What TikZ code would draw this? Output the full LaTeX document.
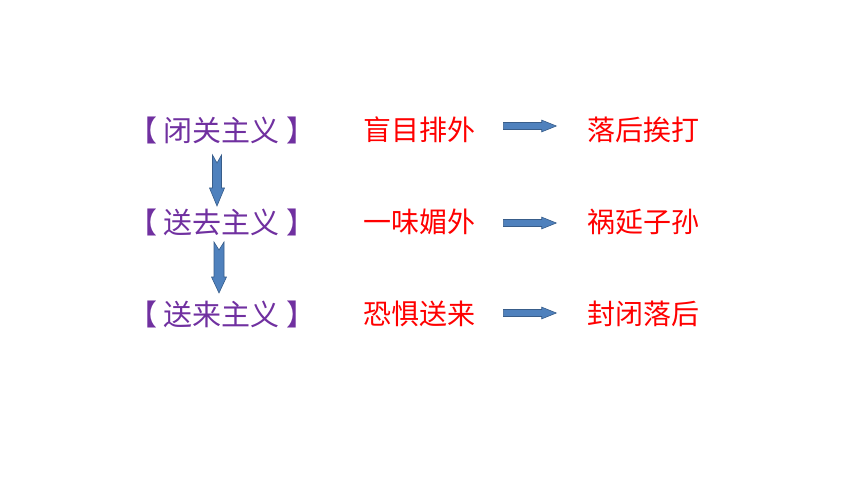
\documentclass[tikz,border=0pt]{standalone}
\usepackage{fontspec}
\setmainfont{Noto Sans CJK SC}
\usetikzlibrary{shapes.arrows}
\definecolor{zhupurple}{HTML}{7030A0}
\definecolor{arrowblue}{HTML}{4F81BD}
\definecolor{arrowline}{HTML}{385D8A}
\tikzset{
  zhuyi/.style={inner sep=0pt, text=zhupurple, font=\fontsize{29}{34}\selectfont},
  jieguo/.style={anchor=west, inner sep=0pt, text=red, font=\fontsize{28}{33}\selectfont},
  blockarrow/.style={fill=arrowblue, draw=arrowline, line width=0.6pt},
  rightarrow/.style={blockarrow, single arrow, minimum height=53pt, inner sep=3.2pt,
    single arrow head extend=2.4pt, single arrow tip angle=44, anchor=west}
}
\begin{document}
\begin{tikzpicture}[x=1pt, y=-1pt]
  \useasboundingbox (0,0) rectangle (860,484);

  \foreach \y/\h/\zhu/\a/\b [count=\i] in {130/126/闭关主义/盲目排外/落后挨打,
      222/223/送去主义/一味媚外/祸延子孙, 314/313/送来主义/恐惧送来/封闭落后}{
    \node[zhuyi] (z\i) at (222,\y) {【\kern7pt\zhu\kern7pt】};
    \node[jieguo] (a\i) at (363,\y) {\a};
    \node[jieguo] (b\i) at (587,\y) {\b};
    \node[rightarrow] (h\i) at (503,\h) {};
  }

  % down arrows between the rows
  \coordinate (v1) at (217,155);
  \coordinate (v2) at (219,242);
  \draw[blockarrow] (v1) ++(-4.5,0) -- ++(4.5,8) -- ++(4.5,-8) -- ++(0,33)
    -- ++(3,0) -- ++(-7.5,18) -- ++(-7.5,-18) -- ++(3,0) -- cycle;
  \draw[blockarrow] (v2) ++(-5,0) -- ++(5,8) -- ++(5,-8) -- ++(0,35)
    -- ++(2.5,0) -- ++(-7.5,16) -- ++(-7.5,-16) -- ++(2.5,0) -- cycle;
\end{tikzpicture}
\end{document}
